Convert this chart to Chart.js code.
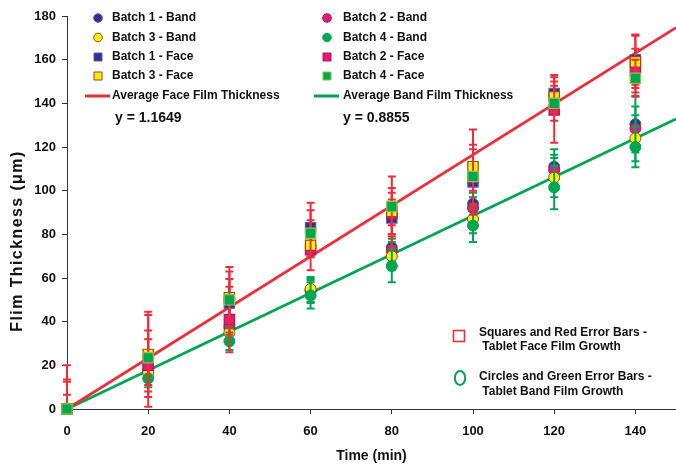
<!DOCTYPE html>
<html>
<head>
<meta charset="utf-8">
<script src="https://cdn.jsdelivr.net/npm/chart.js@4.4.1/dist/chart.umd.min.js"></script>
<style>
  html, body { margin: 0; padding: 0; background: #fff; }
</style>
</head>
<body>
<canvas id="filmChart" width="676" height="464"></canvas>
<script>
// sampling times (min)
const times = [0, 20, 40, 60, 80, 100, 120, 140];

// band film thickness (um) per batch, circles
const b1Band = [0, 17, 37, 54.5, 74, 94, 111, 130.5];
const b2Band = [0, 18, 38, 54, 72.5, 92, 109.5, 128.5];
const b3Band = [0, 16.5, 35, 55, 70, 87, 106, 124];
const b4Band = [0, 14, 31, 52, 65.5, 84, 101.5, 120];

// face film thickness (um) per batch, squares
const b1Face = [0, 22, 48.5, 83, 87.5, 104, 144.5, 160];
const b2Face = [0, 20, 41, 73, 89.5, 106, 137, 155];
const b3Face = [0, 25, 51, 75, 90.5, 111, 143, 159];
const b4Face = [0, 23.5, 50, 80.5, 92.7, 106.5, 140, 151.5];

// error bars (+/-)
const b1BandErr = [0, 3, 3, 6, 6, 5, 8, 13];
const b2BandErr = [0, 3.5, 3, 5, 5.5, 5, 7, 10];
const b3BandErr = [0, 3, 3, 4.5, 6.5, 6.5, 9, 10.5];
const b4BandErr = [0, 4, 4, 6, 7.5, 7.5, 10, 9.3];
const b1FaceErr = [20, 21, 14.5, 11.5, 8.5, 15, 8.5, 11.5];
const b2FaceErr = [13.5, 12, 15, 3.5, 9.5, 6, 15, 10];
const b3FaceErr = [6.5, 19.5, 14, 11.5, 16, 17, 7, 12];
const b4FaceErr = [12.5, 12.5, 9.5, 10.5, 8.5, 14.5, 8, 8.5];

// trend lines
const trendX = [0, 150];
const faceTrend = [0, 174.7];
const bandTrend = [0, 132.8];
const trendLabels = ['y = 1.1649', 'y = 0.8855'];

const yTicks = [0, 180, 20];   // min, max, step
const xTicks = [0, 150, 20];

const FONT = '"Liberation Sans", Arial, sans-serif';
const RED = '#ED2E38';
const GREEN = '#00A651';

const batchFill = ['#2E3192', '#E3197E', '#FFF200', '#00A651'];
const batchEdge = ['#5A5DA8', '#B3155E', '#A0412D', '#00A651'];
const faceEdge = ['#5A5DA8', '#B3155E', '#A0412D', '#8DC63F'];

function pts(ys) {
  return times.map((t, i) => ({ x: t, y: ys[i] }));
}

const bands = [b1Band, b2Band, b3Band, b4Band];
const bandErrs = [b1BandErr, b2BandErr, b3BandErr, b4BandErr];
const faces = [b1Face, b2Face, b3Face, b4Face];
const faceErrs = [b1FaceErr, b2FaceErr, b3FaceErr, b4FaceErr];

const datasets = [];
bands.forEach((ys, i) => {
  datasets.push({
    label: 'Batch ' + (i + 1) + ' - Band',
    data: pts(ys),
    errors: bandErrs[i],
    errorColor: GREEN,
    pointStyle: 'circle',
    pointRadius: 5.5,
    backgroundColor: batchFill[i],
    borderColor: batchEdge[i],
    borderWidth: 1,
    clip: false,
    order: 19 - i
  });
});
faces.forEach((ys, i) => {
  datasets.push({
    label: 'Batch ' + (i + 1) + ' - Face',
    data: pts(ys),
    errors: faceErrs[i],
    errorColor: RED,
    pointStyle: 'rect',
    pointRadius: 7.3,
    backgroundColor: batchFill[i],
    borderColor: faceEdge[i],
    borderWidth: 1.2,
    clip: false,
    order: 15 - i
  });
});
datasets.push({
  label: 'Average Face Film Thickness',
  data: trendX.map((x, i) => ({ x: x, y: faceTrend[i] })),
  showLine: true, pointRadius: 0, borderColor: RED, borderWidth: 2.8, order: 30
});
datasets.push({
  label: 'Average Band Film Thickness',
  data: trendX.map((x, i) => ({ x: x, y: bandTrend[i] })),
  showLine: true, pointRadius: 0, borderColor: GREEN, borderWidth: 2.8, order: 30
});

// error bars drawn right before each series' markers
const errorBars = {
  id: 'errorBars',
  beforeDatasetDraw(chart, args) {
    const ds = chart.data.datasets[args.index];
    if (!ds.errors) return;
    const { ctx, chartArea, scales } = chart;
    ctx.save();
    ctx.beginPath();
    ctx.rect(chartArea.left - 10, chartArea.top - 10, chartArea.width + 20, chartArea.height + 10);
    ctx.clip();
    ctx.strokeStyle = ds.errorColor;
    ctx.lineWidth = 2;
    ds.data.forEach((p, i) => {
      const e = ds.errors[i];
      if (!e) return;
      const x = scales.x.getPixelForValue(p.x);
      const top = scales.y.getPixelForValue(p.y + e);
      const bot = scales.y.getPixelForValue(p.y - e);
      ctx.beginPath();
      ctx.moveTo(x, top); ctx.lineTo(x, bot);
      ctx.moveTo(x - 4, top); ctx.lineTo(x + 4, top);
      ctx.moveTo(x - 4, bot); ctx.lineTo(x + 4, bot);
      ctx.stroke();
    });
    ctx.restore();
  }
};

function marker(ctx, ds, x, y) {
  ctx.save();
  ctx.fillStyle = ds.backgroundColor;
  ctx.strokeStyle = ds.borderColor;
  ctx.lineWidth = 1;
  ctx.beginPath();
  if (ds.pointStyle === 'rect') {
    ctx.rect(x - 4, y - 4, 8, 8);
  } else {
    ctx.arc(x, y, 4.3, 0, Math.PI * 2);
  }
  ctx.fill();
  ctx.stroke();
  ctx.restore();
}

// legend, slopes, side note and y title
const extras = {
  id: 'extras',
  afterDraw(chart) {
    const ctx = chart.ctx;
    const rowsY = [18, 37.5, 57, 76, 96];
    const markX = [98, 327];
    const textX = [112, 343];
    ctx.save();
    ctx.fillStyle = '#111';
    ctx.textBaseline = 'middle';
    chart.data.datasets.forEach((ds, i) => {
      const col = i % 2, row = Math.floor(i / 2);
      const y = rowsY[row];
      if (ds.showLine) {
        ctx.strokeStyle = ds.borderColor;
        ctx.lineWidth = 3;
        ctx.beginPath();
        ctx.moveTo(markX[col] - 13, y);
        ctx.lineTo(markX[col] + 12, y);
        ctx.stroke();
      } else {
        marker(ctx, ds, markX[col], y);
      }
      ctx.fillStyle = '#111';
      ctx.font = 'bold 12px ' + FONT;
      ctx.fillText(ds.label, textX[col], y);
    });
    ctx.font = 'bold 14px ' + FONT;
    ctx.fillText(trendLabels[0], 115, 118);
    ctx.fillText(trendLabels[1], 343, 118);

    // note on the markers
    ctx.strokeStyle = RED;
    ctx.lineWidth = 1.6;
    ctx.strokeRect(453.5, 330.5, 11, 11);
    ctx.strokeStyle = GREEN;
    ctx.lineWidth = 2;
    ctx.beginPath();
    ctx.ellipse(460, 378, 5.2, 7, 0, 0, Math.PI * 2);
    ctx.stroke();
    ctx.font = 'bold 12px ' + FONT;
    ctx.fillText('Squares and Red Error Bars -', 479, 333);
    ctx.fillText(' Tablet Face Film Growth', 479, 347);
    ctx.fillText('Circles and Green Error Bars -', 479, 377);
    ctx.fillText(' Tablet Band Film Growth', 479, 392);

    // y axis title
    ctx.translate(18, 241);
    ctx.rotate(-Math.PI / 2);
    ctx.textAlign = 'center';
    ctx.font = 'bold 16px ' + FONT;
    if ('letterSpacing' in ctx) ctx.letterSpacing = '1.4px';
    ctx.fillText('Flim Thickness (\u03BCm)', 0, 0);
    ctx.restore();
  }
};

const tickFont = { family: FONT, size: 13, weight: 'bold' };

new Chart(document.getElementById('filmChart').getContext('2d'), {
  type: 'scatter',
  data: { datasets: datasets },
  options: {
    responsive: false,
    animation: false,
    events: [],
    layout: { autoPadding: false, padding: { top: 16, left: 0, right: 0, bottom: 0 } },
    plugins: { legend: { display: false }, tooltip: { enabled: false } },
    scales: {
      x: {
        type: 'linear',
        min: xTicks[0], max: xTicks[1],
        afterFit: s => { s.height = 55; s.paddingLeft = 0; s.paddingRight = 0; },
        ticks: { stepSize: xTicks[2], includeBounds: false, padding: 10, color: '#111', font: tickFont },
        grid: { drawOnChartArea: false, drawTicks: true, tickLength: 5, color: '#333' },
        border: { color: '#333', width: 1 },
        title: { display: true, text: 'Time (min)', color: '#111', padding: { top: 0, bottom: -1 },
                 font: { family: FONT, size: 14, weight: 'bold' } }
      },
      y: {
        min: yTicks[0], max: yTicks[1],
        afterFit: s => { s.width = 67; s.paddingTop = 0; s.paddingBottom = 0; },
        ticks: { stepSize: yTicks[2], padding: 6, color: '#111', font: tickFont },
        grid: { drawOnChartArea: false, drawTicks: true, tickLength: 5, color: '#333' },
        border: { color: '#333', width: 1 }
      }
    }
  },
  plugins: [errorBars, extras]
});
</script>
</body>
</html>
